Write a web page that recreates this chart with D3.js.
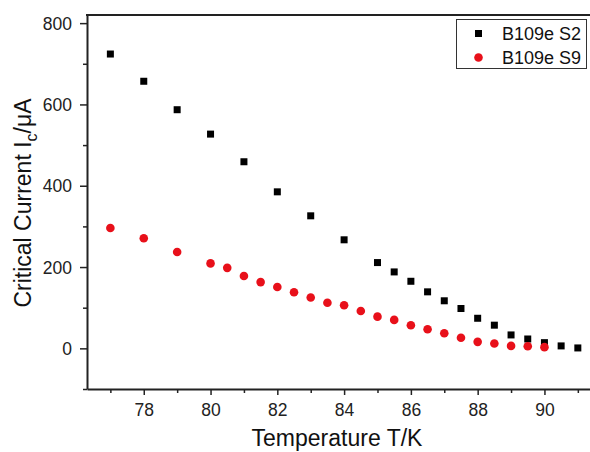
<!DOCTYPE html>
<html lang="en">
<head>
<meta charset="utf-8">
<title>Critical Current vs Temperature</title>
<script src="https://d3js.org/d3.v7.min.js"></script>
<style>
  body { margin: 0; background: #fff; }
  svg { display: block; font-family: Arial, "Liberation Sans", sans-serif; }
  .tick text { font-size: 17.5px; fill: #222; }
  .axis_label { font-size: 23px; fill: #111; }
  .legend_text { font-size: 18px; fill: #111; }
</style>
</head>
<body>
<script>
// data
const tempS2 = [77, 78, 79, 80, 81, 82, 83, 84, 85, 85.5, 86, 86.5, 87, 87.5, 88, 88.5, 89, 89.5, 90, 90.5, 91];
const currentS2 = [724, 657, 587, 527, 459, 385, 326, 267, 211, 188, 165, 139, 117, 98, 74, 57, 33, 23, 14, 6, 1];

const tempS9 = [77, 78, 79, 80, 80.5, 81, 81.5, 82, 82.5, 83, 83.5, 84, 84.5, 85, 85.5, 86, 86.5, 87, 87.5, 88, 88.5, 89, 89.5, 90];
const currentS9 = [296, 271, 237, 209, 198, 178, 163, 151, 138, 125, 112, 106, 92, 78, 70, 57, 47, 37, 26, 16, 12, 6, 5, 3];

const xTicks = [78, 80, 82, 84, 86, 88, 90];
const xMinorTicks = [77, 79, 81, 83, 85, 87, 89, 91];
const yTicks = [0, 200, 400, 600, 800];
const yMinorTicks = [-100, 100, 300, 500, 700];

const seriesNames = ["B109e S2", "B109e S9"];

const w = 590, h = 452;
const plotLeft = 87, plotTop = 15, plotBottom = 389;

const svg = d3.select("body").append("svg")
  .attr("width", w)
  .attr("height", h);

const xScale = d3.scaleLinear()
  .domain([76.3, 92])
  .range([plotLeft, plotLeft + 15.7 * 33.39]);

const yScale = d3.scaleLinear()
  .domain([-100, 820])
  .range([plotBottom, plotTop]);

// minor ticks
svg.append("g")
  .attr("transform", "translate(0," + plotBottom + ")")
  .call(d3.axisBottom(xScale).tickValues(xMinorTicks).tickSize(4).tickFormat(""))
  .call(g => g.select(".domain").remove())
  .selectAll("line").attr("stroke", "#222").attr("stroke-width", 1.5);

svg.append("g")
  .attr("transform", "translate(" + plotLeft + ",0)")
  .call(d3.axisLeft(yScale).tickValues(yMinorTicks).tickSize(4).tickFormat(""))
  .call(g => g.select(".domain").remove())
  .selectAll("line").attr("stroke", "#222").attr("stroke-width", 1.5);

// bottom axis
const xAxis = svg.append("g")
  .attr("transform", "translate(0," + plotBottom + ")")
  .call(d3.axisBottom(xScale).tickValues(xTicks).tickSize(6).tickSizeOuter(0).tickPadding(9));
xAxis.select(".domain").attr("stroke", "#222").attr("stroke-width", 2);
xAxis.selectAll("line").attr("stroke", "#222").attr("stroke-width", 1.5);

// left axis
const yAxis = svg.append("g")
  .attr("transform", "translate(" + plotLeft + ",0)")
  .call(d3.axisLeft(yScale).tickValues(yTicks).tickSize(7).tickSizeOuter(0).tickPadding(8));
yAxis.select(".domain").attr("stroke", "#222").attr("stroke-width", 2);
yAxis.selectAll("line").attr("stroke", "#222").attr("stroke-width", 1.5);
yAxis.selectAll("text").attr("dy", "0.35em");

// top frame
svg.append("line")
  .attr("x1", plotLeft - 1).attr("x2", w)
  .attr("y1", plotTop).attr("y2", plotTop)
  .attr("stroke", "#222").attr("stroke-width", 2);

// S2 squares
const sq = 7;
svg.append("g").selectAll("rect")
  .data(tempS2.map((t, i) => [t, currentS2[i]]))
  .join("rect")
  .attr("x", d => xScale(d[0]) - sq / 2)
  .attr("y", d => yScale(d[1]) - sq / 2)
  .attr("width", sq)
  .attr("height", sq)
  .attr("fill", "#000");

// S9 circles
svg.append("g").selectAll("circle")
  .data(tempS9.map((t, i) => [t, currentS9[i]]))
  .join("circle")
  .attr("cx", d => xScale(d[0]))
  .attr("cy", d => yScale(d[1]))
  .attr("r", 4.3)
  .attr("fill", "#e8101a");

// legend
const legend = svg.append("g");
legend.append("rect")
  .attr("x", 456.5).attr("y", 19.5)
  .attr("width", 130).attr("height", 49)
  .attr("fill", "#fff").attr("stroke", "#333").attr("stroke-width", 1);
legend.append("rect")
  .attr("x", 475).attr("y", 30).attr("width", 7).attr("height", 7).attr("fill", "#000");
legend.append("circle")
  .attr("cx", 478.5).attr("cy", 57.5).attr("r", 4.3).attr("fill", "#e8101a");
legend.selectAll("text")
  .data(seriesNames)
  .join("text")
  .attr("class", "legend_text")
  .attr("x", 502)
  .attr("y", (d, i) => 40 + i * 24)
  .text(d => d);

// x-axis label (kept just inside the bottom edge)
svg.append("text")
  .attr("class", "axis_label")
  .attr("x", 337)
  .attr("y", 446)
  .attr("text-anchor", "middle")
  .text("Temperature T/K");

// y-axis label
const yl = svg.append("text")
  .attr("class", "axis_label")
  .attr("text-anchor", "middle")
  .attr("transform", "translate(31,203) rotate(-90)");
yl.append("tspan").text("Critical Current I");
yl.append("tspan").attr("font-size", "16px").attr("dy", 6).text("c");
yl.append("tspan").attr("dy", -6).text("/\u03bcA");
</script>
</body>
</html>
